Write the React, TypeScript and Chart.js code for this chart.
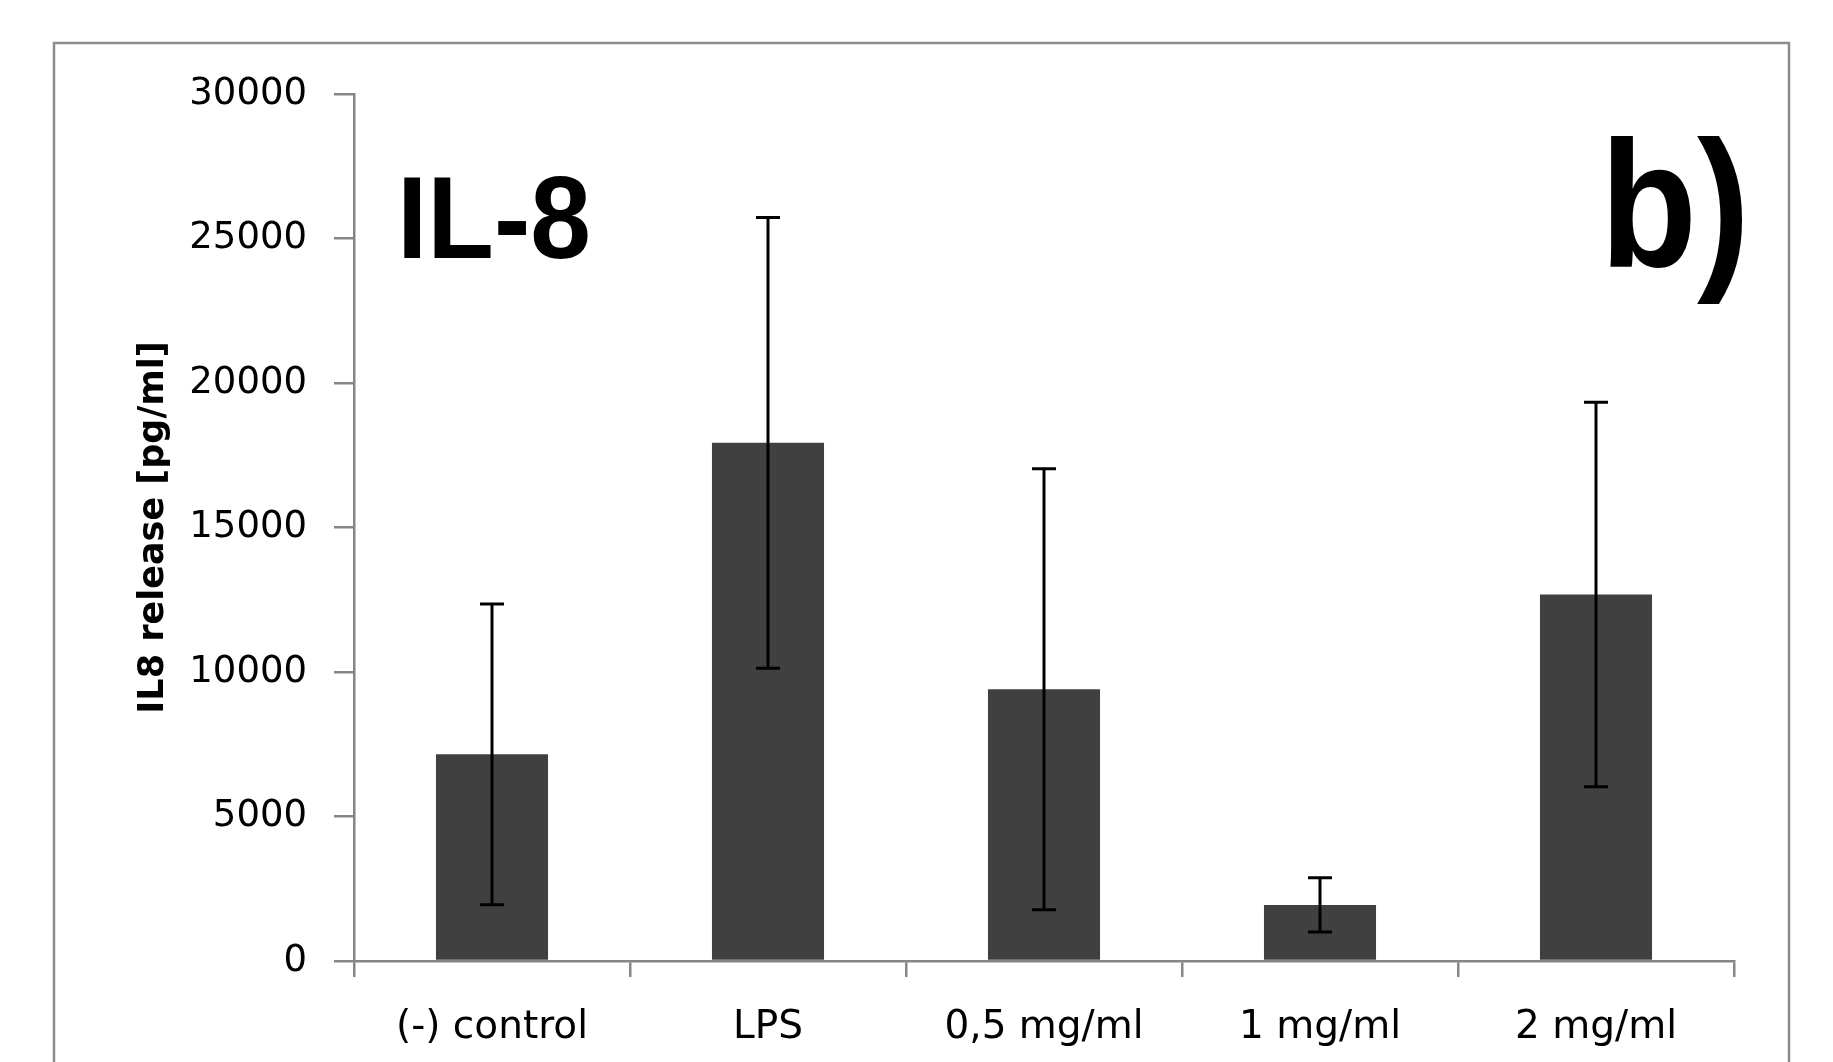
import React, { useEffect, useRef } from "react";
import { Chart, registerables } from "chart.js";

Chart.register(...registerables);

const categories = ["(-) control", "LPS", "0,5 mg/ml", "1 mg/ml", "2 mg/ml"];
const means = [7150, 17930, 9400, 1940, 12680];
const errors = [5200, 7800, 7630, 940, 6650];
const yMin = 0;
const yMax = 30000;
const yStep = 5000;
const yAxisTitle = "IL8 release [pg/ml]";
const panelTitle = "IL-8";
const panelLetter = "b)";

const AXIS_GRAY = "#868686";

const errorBarPlugin = {
  id: "errorBars",
  afterDatasetsDraw(chart: any) {
    const ctx = chart.ctx;
    const meta = chart.getDatasetMeta(0);
    const y = chart.scales.y;
    ctx.save();
    ctx.strokeStyle = "#000";
    ctx.lineWidth = 3;
    meta.data.forEach((bar: any, i: number) => {
      const x = bar.x;
      const top = y.getPixelForValue(means[i] + errors[i]);
      const bot = y.getPixelForValue(means[i] - errors[i]);
      ctx.beginPath();
      ctx.moveTo(x, top);
      ctx.lineTo(x, bot);
      ctx.moveTo(x - 12, top);
      ctx.lineTo(x + 12, top);
      ctx.moveTo(x - 12, bot);
      ctx.lineTo(x + 12, bot);
      ctx.stroke();
    });
    ctx.restore();
  },
};

const framePlugin = {
  id: "frame",
  beforeDraw(chart: any) {
    const ctx = chart.ctx;
    ctx.save();
    ctx.fillStyle = "#ffffff";
    ctx.fillRect(0, 0, chart.width, chart.height);
    ctx.strokeStyle = "#8c8c8c";
    ctx.lineWidth = 2.5;
    ctx.strokeRect(54, 43, 1735, 1100);
    ctx.restore();
  },
  afterDraw(chart: any) {
    const ctx = chart.ctx;
    ctx.save();
    ctx.fillStyle = "#000";
    ctx.textAlign = "left";
    ctx.textBaseline = "alphabetic";
    ctx.font = "bold 116px 'Liberation Sans'";
    ctx.fillText(panelTitle, 397, 258, 194);
    ctx.font = "bold 180px 'Liberation Sans'";
    ctx.fillText(panelLetter, 1600, 267, 150);
    ctx.restore();
  },
};

export default function App() {
  const ref = useRef<HTMLCanvasElement | null>(null);

  useEffect(() => {
    if (!ref.current) return;
    const chart = new Chart(ref.current, {
      type: "bar",
      data: {
        labels: categories,
        datasets: [
          {
            data: means,
            backgroundColor: "#404040",
            borderWidth: 0,
            categoryPercentage: 1,
            barPercentage: 0.406,
          },
        ],
      },
      options: {
        responsive: false,
        animation: false,
        devicePixelRatio: 1,
        layout: { padding: { top: 94, right: 99, left: 0, bottom: 0 } },
        plugins: {
          legend: { display: false },
          tooltip: { enabled: false },
        },
        scales: {
          x: {
            afterFit: (s: any) => {
              s.height = 101;
            },
            grid: {
              display: true,
              drawOnChartArea: false,
              drawTicks: true,
              tickLength: 16,
              color: AXIS_GRAY,
              lineWidth: 2.5,
            },
            border: { display: true, color: AXIS_GRAY, width: 2.5 },
            ticks: {
              color: "#000",
              padding: 27,
              maxRotation: 0,
              font: { family: "'DejaVu Sans'", size: 39 },
            },
          },
          y: {
            min: yMin,
            max: yMax,
            afterFit: (s: any) => {
              s.width = 354;
            },
            grid: {
              display: true,
              drawOnChartArea: false,
              drawTicks: true,
              tickLength: 20,
              color: AXIS_GRAY,
              lineWidth: 2.5,
            },
            border: { display: true, color: AXIS_GRAY, width: 2.5 },
            ticks: {
              stepSize: yStep,
              color: "#000",
              padding: 27,
              font: { family: "'DejaVu Sans'", size: 37 },
              callback: (v: any) => String(v),
            },
            title: {
              display: true,
              text: yAxisTitle,
              color: "#000",
              padding: { top: 133, bottom: 0 },
              font: { family: "'DejaVu Sans'", size: 35, weight: "bold", lineHeight: 1.2 },
            },
          },
        },
      },
      plugins: [framePlugin, errorBarPlugin],
    } as any);
    return () => chart.destroy();
  }, []);

  return (
    <div style={{ position: "fixed", left: 0, top: 0, width: 1833, height: 1062, background: "#fff" }}>
      <canvas ref={ref} width={1833} height={1062} style={{ display: "block", width: 1833, height: 1062 }} />
    </div>
  );
}
